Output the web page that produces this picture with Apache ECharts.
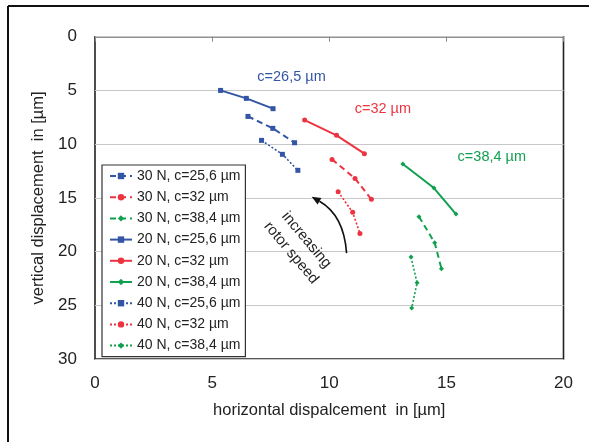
<!DOCTYPE html>
<html><head><meta charset="utf-8">
<script src="https://cdn.jsdelivr.net/npm/echarts@6/dist/echarts.min.js"></script>
<style>html,body{margin:0;padding:0;background:#fff}#c{width:589px;height:442px}</style>
</head><body><div id="c"></div>
<script>
// ---- data (x = horizontal, y = vertical displacement, µm) ----
const seriesNames = ['30 N, c=25,6 µm','30 N, c=32 µm','30 N, c=38,4 µm','20 N, c=25,6 µm','20 N, c=32 µm','20 N, c=38,4 µm','40 N, c=25,6 µm','40 N, c=32 µm','40 N, c=38,4 µm'];
const blue30 = [[6.53,7.42],[7.59,8.53],[8.52,9.87]];
const red30 = [[10.12,11.42],[11.10,13.19],[11.80,15.14]];
const green30 = [[13.83,16.75],[14.50,19.17],[14.79,21.59]];
const blue20 = [[5.36,5.00],[6.46,5.74],[7.60,6.70]];
const red20 = [[8.95,7.76],[10.31,9.18],[11.50,10.89]];
const green20 = [[13.14,11.85],[14.47,14.09],[15.41,16.51]];
const blue40 = [[7.11,9.65],[8.00,10.95],[8.66,12.44]];
const red40 = [[10.38,14.43],[11.00,16.35],[11.31,18.31]];
const green40 = [[13.49,20.51],[13.75,22.90],[13.52,25.26]];
const xTicks = [0,5,10,15,20];
const yTicks = [0,5,10,15,20,25,30];
const annotations = [
  {text:'c=26,5 µm', x:8.39, y:3.72, color:'#3355a5'},
  {text:'c=32 µm', x:12.29, y:6.73, color:'#ee3340'},
  {text:'c=38,4 µm', x:16.94, y:11.2, color:'#11a050'}
];
const arrowTail = [10.74, 20.14], arrowMid = [10.31, 17.07], arrowHead = [9.25, 14.9];
const arrowLabelPos = [8.70, 19.52];

const FONT = "'Liberation Sans',Arial,sans-serif";
const C = {blue:'#3355a5', red:'#ee3340', green:'#11a050'};
const styles = [
  [blue30,C.blue,'dashed','rect',5],[red30,C.red,'dashed','circle',5],[green30,C.green,'dashed','diamond',5],
  [blue20,C.blue,'solid','rect',5],[red20,C.red,'solid','circle',5],[green20,C.green,'solid','diamond',5],
  [blue40,C.blue,'dotted','rect',5],[red40,C.red,'dotted','circle',5],[green40,C.green,'dotted','diamond',5]
];
const series = styles.map((s,i)=>({
  name: seriesNames[i], type:'line', data:s[0], symbol:s[3], symbolSize:s[4],
  showAllSymbol:true,
  lineStyle:{color:s[1], width: s[2]==='dotted'?1.6:2, type: s[2]==='dashed'?[6,4]:(s[2]==='dotted'?[2,2]:'solid')},
  itemStyle:{color:s[1]}, animation:false, xAxisIndex:0, yAxisIndex:0
}));

const chart = echarts.init(document.getElementById('c'));
chart.setOption({
  backgroundColor:'#fff',
  animation:false,
  textStyle:{fontFamily:FONT},
  grid:{left:95, right:25.5, top:36.7, bottom:83, show:true, borderColor:'#222', borderWidth:1.6, backgroundColor:'transparent'},
  xAxis:[{type:'value', min:xTicks[0], max:xTicks[xTicks.length-1], interval:5, position:'bottom',
    axisLine:{show:false}, axisTick:{show:false}, splitLine:{show:false},
    axisLabel:{fontSize:17, color:'#222', margin:16, fontFamily:FONT},
    name:'horizontal dispalcement  in [µm]', nameLocation:'middle', nameGap:43,
    nameTextStyle:{fontSize:16.5, color:'#222', fontFamily:FONT}},
   {type:'value', min:0, max:20, interval:5, position:'top', axisLine:{show:false},
    axisTick:{show:true, inside:true, length:5, lineStyle:{color:'#888'}}, axisLabel:{show:false}, splitLine:{show:false}}],
  yAxis:{type:'value', min:yTicks[0], max:yTicks[yTicks.length-1], interval:5, inverse:true,
    axisLine:{show:false}, axisTick:{show:false},
    splitLine:{show:true, lineStyle:{color:'#c8c8c8', width:1}},
    axisLabel:{fontSize:17, color:'#222', margin:18, fontFamily:FONT},
    name:'vertical displacement  in [µm]', nameLocation:'middle', nameGap:43,
    nameTextStyle:{fontSize:16.5, color:'#222', fontFamily:FONT}},
  legend:{orient:'vertical', left:102, top:165, padding:[3,5,3,7],
    backgroundColor:'#fff', borderColor:'#333', borderWidth:1.2, borderRadius:0,
    itemWidth:22, itemHeight:8, itemGap:5.2, data:seriesNames,
    textStyle:{fontSize:14, color:'#222', fontFamily:FONT, lineHeight:16}},
  series: series
});

function px(p){ return chart.convertToPixel({xAxisIndex:0,yAxisIndex:0}, p); }
const g = [];
// outer frame (top and left edges)
g.push({type:'line', shape:{x1:8, y1:6, x2:600, y2:6}, style:{stroke:'#111', lineWidth:2}, z:100});
g.push({type:'line', shape:{x1:8, y1:6, x2:8, y2:460}, style:{stroke:'#111', lineWidth:2}, z:100});
annotations.forEach(a=>{
  const p = px([a.x,a.y]);
  g.push({type:'text', x:p[0], y:p[1], style:{text:a.text, fill:a.color, fontSize:14.5, fontFamily:FONT, align:'center', verticalAlign:'middle'}, z:100});
});
const t = px(arrowTail), m = px(arrowMid), h = px(arrowHead);
const cp = [2*m[0]-(t[0]+h[0])/2, 2*m[1]-(t[1]+h[1])/2];
let dx = h[0]-cp[0], dy = h[1]-cp[1]; const L = Math.hypot(dx,dy); dx/=L; dy/=L;
const hl = 9, hw = 3.8;
const base = [h[0]-dx*hl, h[1]-dy*hl];
g.push({type:'bezierCurve', shape:{x1:t[0], y1:t[1], x2:base[0], y2:base[1], cpx1:cp[0], cpy1:cp[1]}, style:{stroke:'#111', lineWidth:1.6, fill:null}, z:100});
g.push({type:'polygon', shape:{points:[h,[base[0]-dy*hw, base[1]+dx*hw],[base[0]+dy*hw, base[1]-dx*hw]]}, style:{fill:'#111'}, z:100});
const lp = px(arrowLabelPos);
g.push({type:'text', x:lp[0], y:lp[1], rotation:-50*Math.PI/180,
  style:{text:'increasing\nrotor speed', fill:'#222', fontSize:15, lineHeight:20, fontFamily:FONT, align:'center', verticalAlign:'middle'}, z:100});
chart.setOption({graphic:g});
</script></body></html>
